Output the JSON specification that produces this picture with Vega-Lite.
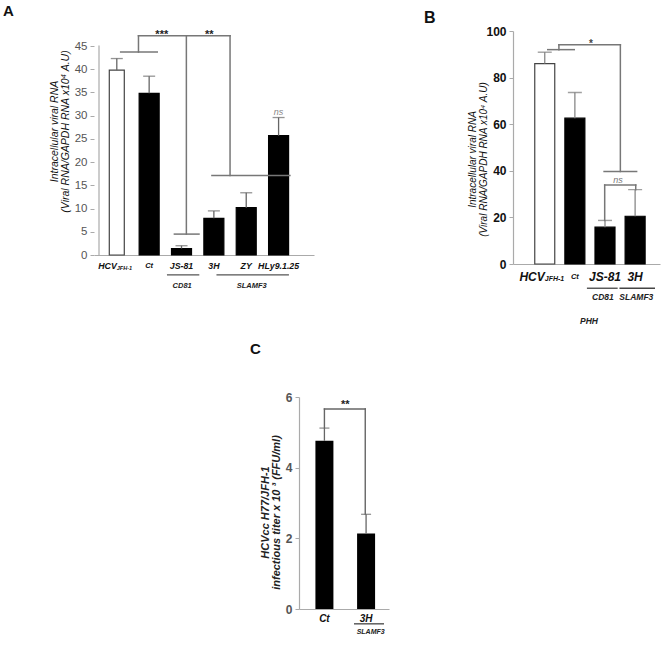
{
  "$schema": "https://vega.github.io/schema/vega-lite/v6.json",
  "padding": {"left": 3, "top": 3, "right": 5, "bottom": 5},
  "background": "white",
  "config": {
    "font": "Liberation Sans",
    "view": {"stroke": null},
    "axis": {"grid": false},
    "title": {"font": "Liberation Sans"}
  },
  "columns": 2,
  "bounds": "flush",
  "spacing": {"row": 133, "column": 199},
  "concat": [
    {
      "width": 220,
      "height": 224,
      "title": {"text": "A", "anchor": "start", "frame": "group", "fontSize": 15, "fontWeight": "bold", "color": "#111", "dx": -91, "offset": -2, "baseline": "alphabetic"},
      "data": {"values": [
        {"label": "HCV", "i": 0, "mean": 39.8, "upper": 42.3},
        {"label": "Ct", "i": 1, "mean": 34.8, "upper": 38.5},
        {"label": "JS-81", "i": 2, "mean": 1.4, "upper": 2.0},
        {"label": "3H", "i": 3, "mean": 7.9, "upper": 9.5},
        {"label": "ZY", "i": 4, "mean": 10.2, "upper": 13.4},
        {"label": "HLy9.1.25", "i": 5, "mean": 25.7, "upper": 29.6}
      ]},
      "layer": [
        {
          "mark": {"type": "bar", "orient": "vertical", "strokeWidth": 1.2},
          "encoding": {
            "x": {"field": "i", "type": "quantitative", "scale": {"domain": [-0.55, 5.94], "nice": false, "zero": false},
              "axis": {"title": null, "labels": false, "ticks": false, "domainColor": "#aaa", "domainWidth": 1.2}},
            "y": {"field": "mean", "type": "quantitative", "scale": {"domain": [0, 48.23], "nice": false},
              "axis": {"values": [0, 5, 10, 15, 20, 25, 30, 35, 40, 45], "tickCount": 10, "domainOpacity": 0, "labelOverlap": false,
                "title": ["Intracellular viral RNA", "(Viral RNA/GAPDH RNA x10⁴ A.U)"],
                "titleFontStyle": "italic", "titleFontWeight": "normal", "titleFontSize": 10.5, "titleColor": "#111",
                "titlePadding": 4, "titleLineHeight": 11, "titleY": 100,
                "labelFontSize": 11.5, "labelColor": "#555", "labelPadding": 3, "tickSize": 4, "tickColor": "#aaa"}},
            "size": {"condition": {"test": "datum.label === 'HCV'", "value": 15}, "value": 20},
            "fill": {"condition": {"test": "datum.label === 'HCV'", "value": "white"}, "value": "black"},
            "stroke": {"condition": {"test": "datum.label === 'HCV'", "value": "#444"}, "value": "black"}
          }
        },
        {
          "mark": {"type": "rule", "color": "#666", "strokeWidth": 1.3},
          "encoding": {
            "x": {"field": "i", "type": "quantitative"},
            "y": {"field": "mean", "type": "quantitative"},
            "y2": {"field": "upper"}
          }
        },
        {
          "mark": {"type": "tick", "orient": "horizontal", "color": "#666", "thickness": 1.3, "size": 12},
          "encoding": {
            "x": {"field": "i", "type": "quantitative"},
            "y": {"field": "upper", "type": "quantitative"}
          }
        },
        {
          "data": {"values": [
            {"x": -0.55, "x2": -0.55, "y": 0, "y2": 45, "kind": "axis"},
            {"x": 0.12, "x2": 1.25, "y": 43.7, "y2": 43.7, "kind": "bracket"},
            {"x": 0.67, "x2": 0.67, "y": 43.7, "y2": 47.2, "kind": "bracket"},
            {"x": 0.67, "x2": 3.5, "y": 47.2, "y2": 47.2, "kind": "bracket"},
            {"x": 2.15, "x2": 2.15, "y": 47.2, "y2": 4.5, "kind": "bracket"},
            {"x": 1.78, "x2": 2.54, "y": 4.5, "y2": 4.5, "kind": "bracket"},
            {"x": 3.5, "x2": 3.5, "y": 47.2, "y2": 17.1, "kind": "bracket"},
            {"x": 2.94, "x2": 5.35, "y": 17.1, "y2": 17.1, "kind": "bracket"}
          ]},
          "mark": {"type": "rule", "strokeCap": "square"},
          "encoding": {
            "x": {"field": "x", "type": "quantitative"},
            "x2": {"field": "x2"},
            "y": {"field": "y", "type": "quantitative"},
            "y2": {"field": "y2"},
            "color": {"condition": {"test": "datum.kind === 'axis'", "value": "#aaa"}, "value": "#777"},
            "strokeWidth": {"condition": {"test": "datum.kind === 'axis'", "value": 1.2}, "value": 1.5}
          }
        },
        {
          "data": {"values": [
            {"x": 1.39, "y": 46.8, "t": "***"},
            {"x": 2.86, "y": 46.8, "t": "**"}
          ]},
          "mark": {"type": "text", "fontSize": 11, "fontWeight": "bold", "color": "#222", "baseline": "alphabetic"},
          "encoding": {
            "x": {"field": "x", "type": "quantitative"},
            "y": {"field": "y", "type": "quantitative"},
            "text": {"field": "t"}
          }
        },
        {
          "data": {"values": [{"x": 5, "y": 30.2, "t": "ns"}]},
          "mark": {"type": "text", "fontSize": 9, "fontStyle": "italic", "color": "#888", "baseline": "alphabetic"},
          "encoding": {
            "x": {"field": "x", "type": "quantitative"},
            "y": {"field": "y", "type": "quantitative"},
            "text": {"field": "t"}
          }
        },
        {
          "transform": [{"filter": "datum.label !== 'HCV'"}],
          "mark": {"type": "text", "fontStyle": "italic", "fontWeight": "bold", "baseline": "middle", "color": "#111"},
          "encoding": {
            "x": {"field": "i", "type": "quantitative"},
            "y": {"datum": -2.4},
            "text": {"field": "label"},
            "size": {"condition": {"test": "datum.label === 'Ct'", "value": 7.5}, "value": 8.8}
          }
        },
        {
          "transform": [{"filter": "datum.label === 'HCV'"}],
          "mark": {"type": "text", "fontStyle": "italic", "fontWeight": "bold", "baseline": "middle", "align": "right", "fontSize": 8.8, "color": "#111"},
          "encoding": {
            "x": {"field": "i", "type": "quantitative"},
            "y": {"datum": -2.4},
            "text": {"field": "label"}
          }
        },
        {
          "transform": [{"filter": "datum.label === 'HCV'"}],
          "mark": {"type": "text", "fontStyle": "italic", "fontWeight": "bold", "baseline": "middle", "align": "left", "fontSize": 5.5, "color": "#111"},
          "encoding": {
            "x": {"field": "i", "type": "quantitative"},
            "y": {"datum": -2.8},
            "text": {"value": "JFH-1"}
          }
        },
        {
          "data": {"values": [
            {"g": "CD81", "x": 2.02, "x1": 1.55, "x2": 2.55},
            {"g": "SLAMF3", "x": 4.17, "x1": 3.08, "x2": 5.32}
          ]},
          "mark": {"type": "rule", "color": "#555", "strokeWidth": 1.3},
          "encoding": {
            "x": {"field": "x1", "type": "quantitative"},
            "x2": {"field": "x2"},
            "y": {"datum": -4.3}
          }
        },
        {
          "data": {"values": [
            {"g": "CD81", "x": 2.02, "x1": 1.55, "x2": 2.55},
            {"g": "SLAMF3", "x": 4.17, "x1": 3.08, "x2": 5.32}
          ]},
          "mark": {"type": "text", "fontStyle": "italic", "fontWeight": "bold", "baseline": "middle", "fontSize": 7.5, "color": "#222"},
          "encoding": {
            "x": {"field": "x", "type": "quantitative"},
            "y": {"datum": -6.7},
            "text": {"field": "g"}
          }
        }
      ]
    },
    {
      "width": 147,
      "height": 233,
      "title": {"text": "B", "anchor": "start", "frame": "group", "fontSize": 16, "fontWeight": "bold", "color": "#111", "dx": -89, "offset": -14, "baseline": "alphabetic"},
      "data": {"values": [
        {"label": "HCV", "i": 0, "mean": 86, "upper": 90.9},
        {"label": "Ct", "i": 1, "mean": 62.6, "upper": 73.6},
        {"label": "JS-81", "i": 2, "mean": 15.8, "upper": 18.7},
        {"label": "3H", "i": 3, "mean": 20.5, "upper": 31.9}
      ]},
      "layer": [
        {
          "mark": {"type": "bar", "orient": "vertical", "strokeWidth": 1.2, "size": 20},
          "encoding": {
            "x": {"field": "i", "type": "quantitative", "scale": {"domain": [-0.888, 3.66], "nice": false, "zero": false},
              "axis": {"title": null, "labels": false, "ticks": false, "domainColor": "#aaa", "domainWidth": 1.2}},
            "y": {"field": "mean", "type": "quantitative", "scale": {"domain": [0, 100], "nice": false},
              "axis": {"values": [0, 10, 20, 30, 40, 50, 60, 70, 80, 90, 100],
                "labelExpr": "datum.value % 20 === 0 ? datum.label : ''",
                "title": ["Intracellular viral RNA", "(Viral RNA/GAPDH RNA x10⁴ A.U)"],
                "titleFontStyle": "italic", "titleFontWeight": "normal", "titleFontSize": 10, "titleColor": "#111",
                "titlePadding": -3, "titleLineHeight": 11, "titleY": 128,
                "labelFontSize": 12, "labelFontWeight": "bold", "labelColor": "#111", "labelPadding": 3, "tickSize": 4, "tickColor": "#aaa",
                "domainColor": "#aaa", "domainWidth": 1.2}},
            "fill": {"condition": {"test": "datum.label === 'HCV'", "value": "white"}, "value": "black"},
            "stroke": {"condition": {"test": "datum.label === 'HCV'", "value": "#444"}, "value": "black"}
          }
        },
        {
          "mark": {"type": "rule", "color": "#888", "strokeWidth": 1.3},
          "encoding": {
            "x": {"field": "i", "type": "quantitative"},
            "y": {"field": "mean", "type": "quantitative"},
            "y2": {"field": "upper"}
          }
        },
        {
          "mark": {"type": "tick", "orient": "horizontal", "color": "#777", "thickness": 1.4, "size": 14},
          "encoding": {
            "x": {"field": "i", "type": "quantitative"},
            "y": {"field": "upper", "type": "quantitative"}
          }
        },
        {
          "data": {"values": [
            {"x": 0.1, "x2": 0.98, "y": 92, "y2": 92},
            {"x": 0.47, "x2": 0.47, "y": 92, "y2": 94.1},
            {"x": 0.47, "x2": 2.51, "y": 94.1, "y2": 94.1},
            {"x": 2.51, "x2": 2.51, "y": 94.1, "y2": 39.7},
            {"x": 1.97, "x2": 3.05, "y": 39.7, "y2": 39.7},
            {"x": 1.99, "x2": 3.02, "y": 33.9, "y2": 33.9},
            {"x": 1.99, "x2": 1.99, "y": 33.9, "y2": 18.7},
            {"x": 3.02, "x2": 3.02, "y": 33.9, "y2": 31.9}
          ]},
          "mark": {"type": "rule", "color": "#777", "strokeWidth": 1.5, "strokeCap": "square"},
          "encoding": {
            "x": {"field": "x", "type": "quantitative"},
            "x2": {"field": "x2"},
            "y": {"field": "y", "type": "quantitative"},
            "y2": {"field": "y2"}
          }
        },
        {
          "data": {"values": [{"x": 1.53, "y": 93.0, "t": "*"}]},
          "mark": {"type": "text", "fontSize": 10, "fontWeight": "bold", "color": "#444", "baseline": "alphabetic"},
          "encoding": {
            "x": {"field": "x", "type": "quantitative"},
            "y": {"field": "y", "type": "quantitative"},
            "text": {"field": "t"}
          }
        },
        {
          "data": {"values": [{"x": 2.43, "y": 34.8, "t": "ns"}]},
          "mark": {"type": "text", "fontSize": 9, "fontStyle": "italic", "color": "#777", "baseline": "alphabetic"},
          "encoding": {
            "x": {"field": "x", "type": "quantitative"},
            "y": {"field": "y", "type": "quantitative"},
            "text": {"field": "t"}
          }
        },
        {
          "transform": [{"filter": "datum.label !== 'HCV'"}],
          "mark": {"type": "text", "fontStyle": "italic", "fontWeight": "bold", "baseline": "middle", "color": "#111"},
          "encoding": {
            "x": {"field": "i", "type": "quantitative"},
            "y": {"datum": -5.6},
            "text": {"field": "label"},
            "size": {"condition": {"test": "datum.label === 'Ct'", "value": 7.5}, "value": 12}
          }
        },
        {
          "transform": [{"filter": "datum.label === 'HCV'"}],
          "mark": {"type": "text", "fontStyle": "italic", "fontWeight": "bold", "baseline": "middle", "align": "right", "fontSize": 12, "color": "#111"},
          "encoding": {
            "x": {"field": "i", "type": "quantitative"},
            "y": {"datum": -5.6},
            "text": {"field": "label"}
          }
        },
        {
          "transform": [{"filter": "datum.label === 'HCV'"}],
          "mark": {"type": "text", "fontStyle": "italic", "fontWeight": "bold", "baseline": "middle", "align": "left", "fontSize": 7, "color": "#111"},
          "encoding": {
            "x": {"field": "i", "type": "quantitative"},
            "y": {"datum": -6.6},
            "text": {"value": "JFH-1"}
          }
        },
        {
          "data": {"values": [
            {"g": "CD81", "x": 1.93, "x1": 1.4, "x2": 2.42},
            {"g": "SLAMF3", "x": 3.04, "x1": 2.48, "x2": 3.66}
          ]},
          "mark": {"type": "rule", "color": "#444", "strokeWidth": 1.3},
          "encoding": {
            "x": {"field": "x1", "type": "quantitative"},
            "x2": {"field": "x2"},
            "y": {"datum": -10.4}
          }
        },
        {
          "data": {"values": [
            {"g": "CD81", "x": 1.93, "x1": 1.4, "x2": 2.42},
            {"g": "SLAMF3", "x": 3.04, "x1": 2.48, "x2": 3.66}
          ]},
          "mark": {"type": "text", "fontStyle": "italic", "fontWeight": "bold", "baseline": "middle", "fontSize": 8.5, "color": "#222"},
          "encoding": {
            "x": {"field": "x", "type": "quantitative"},
            "y": {"datum": -14.3},
            "text": {"field": "g"}
          }
        },
        {
          "data": {"values": [{"g": "PHH", "x": 1.47}]},
          "mark": {"type": "text", "fontStyle": "italic", "fontWeight": "bold", "baseline": "middle", "fontSize": 8.5, "color": "#222"},
          "encoding": {
            "x": {"field": "x", "type": "quantitative"},
            "y": {"datum": -24.5},
            "text": {"field": "g"}
          }
        }
      ]
    },
    {
      "bounds": "flush",
      "spacing": 204,
      "hconcat": [
        {"data": {"values": [{"s": 0}]}, "mark": {"type": "point", "opacity": 0}, "encoding": {}, "width": 1, "height": 1},
        {
          "width": 90,
          "height": 212,
          "title": {"text": "C", "anchor": "start", "frame": "group", "fontSize": 15, "fontWeight": "bold", "color": "#111", "dx": -49, "offset": 22, "baseline": "alphabetic"},
          "data": {"values": [
            {"label": "Ct", "i": 0, "mean": 4.76, "upper": 5.12},
            {"label": "3H", "i": 1, "mean": 2.14, "upper": 2.68}
          ]},
          "layer": [
            {
              "mark": {"type": "bar", "orient": "vertical", "size": 18, "color": "black"},
              "encoding": {
                "x": {"field": "i", "type": "quantitative", "scale": {"domain": [-0.49, 1.43], "nice": false, "zero": false},
                  "axis": {"title": null, "labels": false, "ticks": false, "domainColor": "#aaa", "domainWidth": 1.2}},
                "y": {"field": "mean", "type": "quantitative", "scale": {"domain": [0, 6], "nice": false},
                  "axis": {"values": [0, 2, 4, 6],
                    "title": ["HCVcc H77/JFH-1", "infectious titer x 10 ³ (FFU/ml)"],
                    "titleFontStyle": "italic", "titleFontWeight": "bold", "titleFontSize": 11, "titleColor": "#222",
                    "titlePadding": 4, "titleLineHeight": 11, "titleY": 115,
                    "labelFontSize": 12, "labelFontWeight": "bold", "labelColor": "#555", "labelPadding": 3, "tickSize": 4, "tickColor": "#aaa",
                    "domainColor": "#aaa", "domainWidth": 1.2}}
              }
            },
            {
              "mark": {"type": "rule", "color": "#666", "strokeWidth": 1.3},
              "encoding": {
                "x": {"field": "i", "type": "quantitative"},
                "y": {"field": "mean", "type": "quantitative"},
                "y2": {"field": "upper"}
              }
            },
            {
              "mark": {"type": "tick", "orient": "horizontal", "color": "#666", "thickness": 1.3, "size": 10},
              "encoding": {
                "x": {"field": "i", "type": "quantitative"},
                "y": {"field": "upper", "type": "quantitative"}
              }
            },
            {
              "data": {"values": [
                {"x": 0, "x2": 0.98, "y": 5.66, "y2": 5.66},
                {"x": 0, "x2": 0, "y": 5.66, "y2": 5.13},
                {"x": 0.98, "x2": 0.98, "y": 5.66, "y2": 2.69}
              ]},
              "mark": {"type": "rule", "color": "#666", "strokeWidth": 1.4, "strokeCap": "square"},
              "encoding": {
                "x": {"field": "x", "type": "quantitative"},
                "x2": {"field": "x2"},
                "y": {"field": "y", "type": "quantitative"},
                "y2": {"field": "y2"}
              }
            },
            {
              "data": {"values": [{"x": 0.5, "y": 5.7, "t": "**"}]},
              "mark": {"type": "text", "fontSize": 11, "fontWeight": "bold", "color": "#222", "baseline": "alphabetic"},
              "encoding": {
                "x": {"field": "x", "type": "quantitative"},
                "y": {"field": "y", "type": "quantitative"},
                "text": {"field": "t"}
              }
            },
            {
              "mark": {"type": "text", "fontStyle": "italic", "fontWeight": "bold", "baseline": "middle", "fontSize": 10, "color": "#111"},
              "encoding": {
                "x": {"field": "i", "type": "quantitative"},
                "y": {"datum": -0.28},
                "text": {"field": "label"}
              }
            },
            {
              "data": {"values": [{"g": "SLAMF3", "x": 1.11, "x1": 0.71, "x2": 1.43}]},
              "mark": {"type": "rule", "color": "#444", "strokeWidth": 1.3},
              "encoding": {
                "x": {"field": "x1", "type": "quantitative"},
                "x2": {"field": "x2"},
                "y": {"datum": -0.42}
              }
            },
            {
              "data": {"values": [{"g": "SLAMF3", "x": 1.11, "x1": 0.71, "x2": 1.43}]},
              "mark": {"type": "text", "fontStyle": "italic", "fontWeight": "bold", "baseline": "middle", "fontSize": 7, "color": "#222"},
              "encoding": {
                "x": {"field": "x", "type": "quantitative"},
                "y": {"datum": -0.66},
                "text": {"field": "g"}
              }
            }
          ]
        }
      ]
    }
  ]
}
